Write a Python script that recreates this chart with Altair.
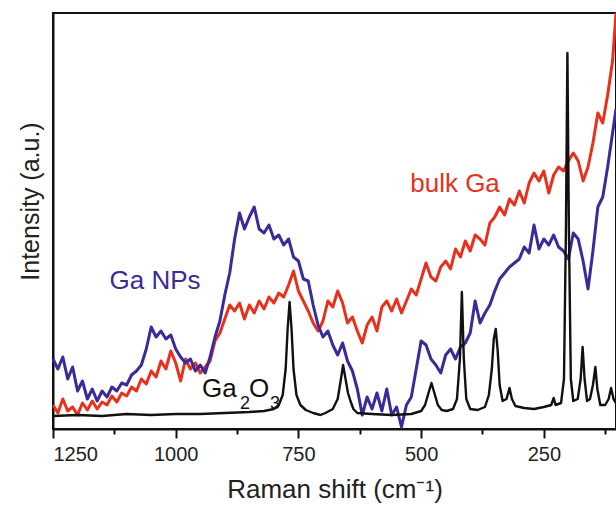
import altair as alt
import pandas as pd

FONT = "Liberation Sans, Arial, Helvetica, sans-serif"

# Raman shift grid (cm^-1) for the two noisy spectra
shift_grid = list(range(1250, 100, -10)) + [103]

bulk_ga = [
    24, 16, 30, 18, 22, 14, 26, 19, 28, 20,
    27, 24, 33, 27, 36, 33, 42, 38, 50, 45,
    58, 52, 68, 60, 78, 66, 48, 70, 60, 66,
    56, 62, 68, 88, 96, 110, 124, 118, 126, 110,
    124, 116, 128, 120, 132, 126, 136, 132, 144, 158,
    138, 128, 118, 106, 98, 108, 128, 122, 138, 126,
    106, 112, 98, 86, 104, 112, 98, 122, 128, 118,
    130, 116, 128, 140, 134, 150, 166, 152, 148, 162,
    168, 160, 180, 172, 188, 178, 194, 190, 184, 206,
    212, 222, 214, 230, 224, 238, 226, 246, 256, 248,
    258, 236, 254, 262, 258, 268, 276, 268, 248, 262,
    286, 316, 306, 334, 368,
    416,
]

ga_nps = [
    70, 60, 72, 50, 62, 38, 48, 30, 40, 28,
    38, 32, 42, 38, 46, 44, 54, 58, 64, 80,
    102, 92, 98, 90, 94, 80, 72, 66, 70, 58,
    64, 56, 72, 92, 108, 134, 156, 190, 216, 200,
    212, 222, 200, 196, 204, 190, 194, 184, 190, 172,
    168, 150, 148, 124, 104, 92, 98, 84, 74, 86,
    68, 58, 40, 14, 32, 20, 36, 18, 40, 14,
    22, 2, 24, 32, 60, 88, 84, 70, 64, 56,
    74, 80, 70, 82, 86, 96, 128, 106, 116, 124,
    138, 150, 156, 162, 166, 170, 182, 176, 204, 180,
    190, 184, 194, 182, 178, 170, 196, 190, 168, 140,
    178, 222, 232, 262, 296,
    320,
]

ga2o3_shift = [
    1250, 1200, 1150, 1100, 1050, 1000, 950, 900, 850, 820,
    800, 790, 782, 776, 772, 768, 764, 760, 754, 746,
    735, 720, 705, 695, 680, 670, 664, 659, 654, 649,
    644, 638, 630, 600, 560, 520, 500, 492, 485, 479,
    473, 466, 458, 448, 435, 427, 421, 417, 413, 408,
    400, 385, 370, 362, 356, 352, 348, 344, 340, 334,
    326, 320, 315, 308, 290, 270, 250, 235, 230, 226,
    215, 209, 205, 202, 199, 195, 190, 181, 175, 171,
    167, 162, 156, 150, 145, 141, 135, 125, 118, 113,
    108, 103,
]
ga2o3 = [
    13, 14, 13, 15, 14, 15, 15, 16, 17, 18,
    20, 24, 34, 60, 100, 127, 100, 60, 34, 24,
    19, 16, 14, 16, 20, 30, 48, 64, 50, 36,
    28, 20, 16, 15, 14, 15, 18, 24, 36, 46,
    36, 24, 19, 18, 20, 30, 70, 137, 70, 30,
    20, 19, 22, 34, 60, 90, 100, 78, 44, 28,
    30, 41, 30, 23, 21, 20, 22, 24, 31, 24,
    26, 50, 200, 376, 200, 50, 28, 30, 50, 82,
    50, 28, 30, 44, 62, 40, 24, 24, 30, 41,
    30, 26,
]

# curve labels (anchor in data units)
label_text = ["Ga NPs", "bulk Ga"]
label_shift = [1042, 431]
label_intensity = [148, 245]
label_series = ["Ga NPs", "bulk Ga"]

# Ga2O3 label anchor (main glyphs "Ga", "O", subscripts "2", "3")
oxide_shift = [869]
oxide_intensity = [40]

series_names = ["bulk Ga", "Ga NPs", "Ga2O3"]
series_colors = ["#e8311d", "#3b2b98", "#111111"]

tick_values = [1250, 1125, 1000, 875, 750, 625, 500, 375, 250, 125]

rows = []
for s, v in zip(shift_grid, bulk_ga):
    rows.append({"shift": s, "intensity": v, "series": "bulk Ga"})
for s, v in zip(shift_grid, ga_nps):
    rows.append({"shift": s, "intensity": v, "series": "Ga NPs"})
for s, v in zip(ga2o3_shift, ga2o3):
    rows.append({"shift": s, "intensity": v, "series": "Ga2O3"})
df = pd.DataFrame(rows)

labels = pd.DataFrame({
    "shift": label_shift,
    "intensity": label_intensity,
    "text": label_text,
    "series": label_series,
})
oxide = pd.DataFrame({"shift": oxide_shift, "intensity": oxide_intensity})

xscale = alt.Scale(domain=[1250, 103], nice=False, zero=False)
yscale = alt.Scale(domain=[0, 416], nice=False, zero=False)
cscale = alt.Scale(domain=series_names, range=series_colors)

x_axis = alt.Axis(
    title="Raman shift (cm\u207b\u00b9)",
    values=tick_values,
    format="d",
    labelExpr="datum.value % 250 === 0 ? datum.label : ''",
    tickSize=alt.condition("datum.value % 250 === 0", alt.value(9), alt.value(5)),
    tickWidth=2,
    domainWidth=2,
    labelFontSize=20,
    labelPadding=6,
    titleFontSize=26,
    titleY=68,
    titleBaseline="alphabetic",
    grid=False,
)
y_axis = alt.Axis(
    title="Intensity (a.u.)",
    ticks=False,
    labels=False,
    domain=True,
    domainWidth=2,
    titleFontSize=25,
    titleX=-23,
    titleY=188,
    titleAngle=270,
    titleAlign="center",
    titleBaseline="middle",
    grid=False,
)

X = alt.X("shift:Q", scale=xscale, axis=x_axis)
Y = alt.Y("intensity:Q", scale=yscale, axis=y_axis)

base = alt.Chart(df)


def line_layer(name, width):
    return base.transform_filter(alt.datum.series == name).mark_line(
        strokeWidth=width, strokeJoin="round"
    ).encode(
        x=X,
        y=Y,
        color=alt.Color("series:N", scale=cscale, legend=None),
    )


text_layer = alt.Chart(labels).mark_text(
    fontSize=26, font=FONT, align="center", baseline="middle"
).encode(
    x=X,
    y=Y,
    text="text:N",
    color=alt.Color("series:N", scale=cscale, legend=None),
)


def oxide_part(txt, size, dx, dy):
    return alt.Chart(oxide).mark_text(
        fontSize=size, font=FONT, align="left", baseline="middle",
        dx=dx, dy=dy, color="#111111",
    ).encode(x=X, y=Y, text=alt.value(txt))


chart = alt.layer(
    line_layer("bulk Ga", 3),
    line_layer("Ga NPs", 3),
    line_layer("Ga2O3", 2.4),
    text_layer,
    oxide_part("Ga", 26, -38, 0),
    oxide_part("2", 18, 0, 15),
    oxide_part("O", 26, 9, 0),
    oxide_part("3", 18, 30, 15),
).properties(
    width=563,
    height=416,
    padding={"left": 53, "top": 13, "right": 0, "bottom": 79},
    autosize=alt.AutoSizeParams(type="none"),
    background="white",
).configure_axis(
    labelFont=FONT,
    titleFont=FONT,
    labelColor="#222222",
    titleColor="#222222",
    domainColor="#111111",
    tickColor="#111111",
    titleFontWeight="normal",
).configure_view(stroke="#111111", strokeWidth=2)

chart.save("out.html", embed_options={"renderer": "svg", "actions": False})
